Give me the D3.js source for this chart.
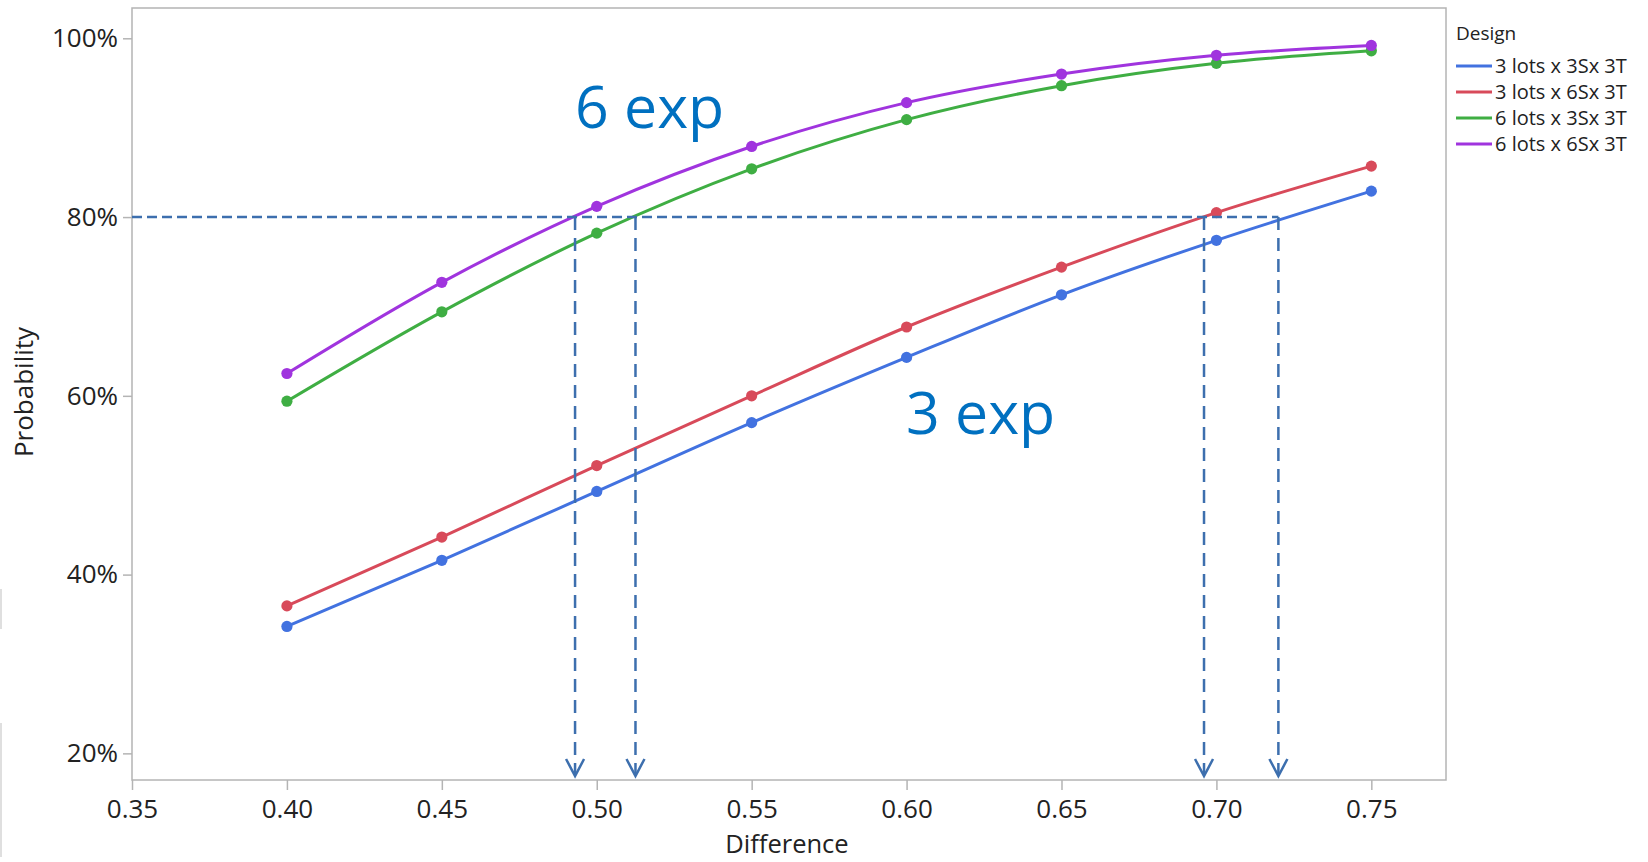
<!DOCTYPE html>
<html>
<head>
<meta charset="utf-8">
<script src="https://cdn.jsdelivr.net/npm/d3@7"></script>
<style>
  html, body { margin: 0; padding: 0; background: #fff; }
  svg { display: block; font-family: "Open Sans", "Noto Sans", sans-serif; }
</style>
</head>
<body>
<svg id="chart" width="1648" height="862"></svg>
<script>
// Power curves: probability of detecting a difference, by study design
const differences = [0.40, 0.45, 0.50, 0.55, 0.60, 0.65, 0.70, 0.75];
const designNames = ["3 lots x 3Sx 3T", "3 lots x 6Sx 3T", "6 lots x 3Sx 3T", "6 lots x 6Sx 3T"];
const designColors = ["#4272e0", "#d84a5a", "#3fae43", "#a034de"];
const power3x3 = [0.342, 0.416, 0.493, 0.570, 0.643, 0.713, 0.774, 0.829];
const power3x6 = [0.365, 0.442, 0.522, 0.600, 0.677, 0.744, 0.805, 0.857];
const power6x3 = [0.594, 0.694, 0.782, 0.854, 0.909, 0.947, 0.972, 0.986];
const power6x6 = [0.625, 0.727, 0.812, 0.879, 0.928, 0.960, 0.981, 0.992];
const seriesValues = [power3x3, power3x6, power6x3, power6x6];

const xTicks = [0.35, 0.40, 0.45, 0.50, 0.55, 0.60, 0.65, 0.70, 0.75];
const yTicks = [0.2, 0.4, 0.6, 0.8, 1.0];

// 80% target and the differences where each curve reaches it
const targetPower = 0.80;
const targetCrossings = [0.493, 0.5125, 0.696, 0.720];
const groupLabels = ["6 exp", "3 exp"];

const svg = d3.select("#chart");
const plot = { left: 132, right: 1446, top: 8, bottom: 780 };

const x = d3.scaleLinear().domain([0.35, 0.7741]).range([plot.left, plot.right]);
const y = d3.scaleLinear().domain([0.1702, 1.0339]).range([plot.bottom, plot.top]);

// Faint window edge fragments at the far left
svg.append("line").attr("x1", 1).attr("x2", 1).attr("y1", 589).attr("y2", 629)
  .attr("stroke", "#d4d4d4").attr("stroke-width", 1.5);
svg.append("line").attr("x1", 1).attr("x2", 1).attr("y1", 723).attr("y2", 857)
  .attr("stroke", "#d4d4d4").attr("stroke-width", 1.5);

// Plot frame
svg.append("rect")
  .attr("x", plot.left).attr("y", plot.top)
  .attr("width", plot.right - plot.left).attr("height", plot.bottom - plot.top)
  .attr("fill", "none").attr("stroke", "#b4b4b4").attr("stroke-width", 1.5);

// X axis
const xAxis = svg.append("g").attr("transform", `translate(0,${plot.bottom})`)
  .call(d3.axisBottom(x).tickValues(xTicks).tickFormat(d3.format(".2f")).tickSize(10).tickPadding(10));
xAxis.select(".domain").remove();
xAxis.selectAll(".tick line").attr("stroke", "#b4b4b4").attr("stroke-width", 1.5);
xAxis.selectAll(".tick text").attr("font-size", 26).attr("fill", "#222")
  .attr("font-family", "Open Sans");

// Y axis
const yAxis = svg.append("g").attr("transform", `translate(${plot.left},0)`)
  .call(d3.axisLeft(y).tickValues(yTicks).tickFormat(d3.format(".0%")).tickSize(9).tickPadding(5));
yAxis.select(".domain").remove();
yAxis.selectAll(".tick line").attr("stroke", "#b4b4b4").attr("stroke-width", 1.5);
yAxis.selectAll(".tick text").attr("font-size", 26).attr("fill", "#222")
  .attr("font-family", "Open Sans");

// Axis titles
svg.append("text").attr("x", 787).attr("y", 853).attr("text-anchor", "middle")
  .attr("font-size", 25.5).attr("fill", "#222").text("Difference");
svg.append("text").attr("transform", "translate(33,392) rotate(-90)")
  .attr("text-anchor", "middle").attr("font-size", 26).attr("fill", "#222").text("Probability");

// Curves and points
const line = d3.line().x((d, i) => x(differences[i])).y(d => y(d)).curve(d3.curveMonotoneX);
seriesValues.forEach((vals, s) => {
  const g = svg.append("g");
  g.append("path").attr("d", line(vals)).attr("fill", "none")
    .attr("stroke", designColors[s]).attr("stroke-width", 3);
  g.selectAll("circle").data(vals).join("circle")
    .attr("cx", (d, i) => x(differences[i])).attr("cy", d => y(d)).attr("r", 5.6)
    .attr("fill", designColors[s]);
});

// 80% reference lines with arrows down to the x axis
const refColor = "#3d6fae";
const arrowTip = 776;
svg.append("line")
  .attr("x1", plot.left).attr("x2", x(d3.max(targetCrossings)))
  .attr("y1", y(targetPower)).attr("y2", y(targetPower))
  .attr("stroke", refColor).attr("stroke-width", 2.5).attr("stroke-dasharray", "10 5");
targetCrossings.forEach(c => {
  svg.append("line")
    .attr("x1", x(c)).attr("x2", x(c)).attr("y1", y(targetPower)).attr("y2", arrowTip - 2)
    .attr("stroke", refColor).attr("stroke-width", 2.5).attr("stroke-dasharray", "13 8");
  svg.append("path")
    .attr("d", `M${x(c) - 9},${arrowTip - 17} L${x(c)},${arrowTip} L${x(c) + 9},${arrowTip - 17}`)
    .attr("fill", "none").attr("stroke", refColor).attr("stroke-width", 2.5);
});

// Group annotations
svg.append("text").attr("x", 575).attr("y", 128).attr("font-size", 59)
  .attr("fill", "#0070c0").text(groupLabels[0]);
svg.append("text").attr("x", 906).attr("y", 434).attr("font-size", 59)
  .attr("fill", "#0070c0").text(groupLabels[1]);

// Legend
const legend = svg.append("g").attr("transform", "translate(1456,0)");
legend.append("text").attr("x", 0).attr("y", 40).attr("font-size", 19)
  .attr("fill", "#222").text("Design");
designNames.forEach((name, i) => {
  const cy = 66 + i * 26;
  legend.append("line").attr("x1", 0).attr("x2", 36).attr("y1", cy).attr("y2", cy)
    .attr("stroke", designColors[i]).attr("stroke-width", 3);
  legend.append("text").attr("x", 39).attr("y", cy + 7).attr("font-size", 20)
    .attr("fill", "#222").text(name);
});
</script>
</body>
</html>
